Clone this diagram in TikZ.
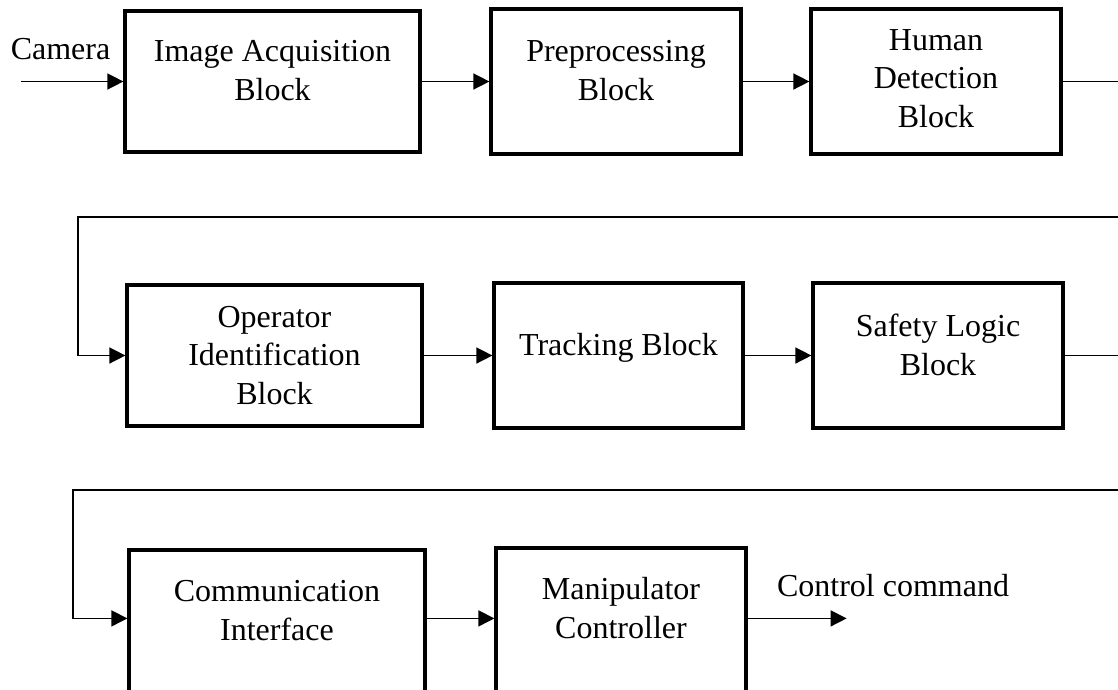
\documentclass[tikz,border=0pt]{standalone}
\usepackage{fontspec}
\setmainfont{Liberation Serif}
\usetikzlibrary{arrows.meta}
\begin{document}
\begin{tikzpicture}[x=1pt,y=-1pt,
  box/.style={draw, rectangle, line width=3.2pt, inner sep=0pt},
  lbl/.style={align=center, anchor=base, inner sep=0pt, font=\fontsize{32}{38.5}\selectfont},
  conn/.style={line width=1.5pt},
  arr/.style={-{Triangle[length=16pt,width=16pt]}}]
\useasboundingbox (0,0) rectangle (1118,689);
\clip (0,0) rectangle (1118,689);
% boxes
\node[box, minimum width=295pt, minimum height=141pt] (b1) at (272.5,81.5) {};
\node[box, minimum width=250pt, minimum height=145pt] (b2) at (616,81.5) {};
\node[box, minimum width=250pt, minimum height=145pt] (b3) at (936,81.5) {};
\node[box, minimum width=295pt, minimum height=141pt] (b4) at (274.5,355.5) {};
\node[box, minimum width=249pt, minimum height=145pt] (b5) at (618.5,355.5) {};
\node[box, minimum width=250pt, minimum height=145pt] (b6) at (938,355.5) {};
\node[box, minimum width=296pt, minimum height=170pt] (b7) at (277,635) {};
\node[box, minimum width=250pt, minimum height=172pt] (b8) at (621,634) {};
% texts (anchor base = last line)
\node[lbl] (t1) at (272.5,100) {Image Acquisition\\Block};
\node[lbl] (t2) at (616,100) {Preprocessing\\Block};
\node[lbl] (t3) at (936,127) {Human\\Detection\\Block};
\node[lbl] (t4) at (274.5,404) {Operator\\Identification\\Block};
\node[lbl] (t5) at (618.5,355) {Tracking Block};
\node[lbl] (t6) at (938,375) {Safety Logic\\Block};
\node[lbl] (t7) at (277,640) {Communication\\Interface};
\node[lbl] (t8) at (621,638) {Manipulator\\Controller};
\node[lbl] (cam) at (60.5,59) {Camera};
\node[lbl] (ctl) at (893,596) {Control command};
% free ends
\coordinate (c0) at (21,81.5);
\coordinate (r1) at (1120,81.5);
\coordinate (l1r) at (1120,217);
\coordinate (l1l) at (78,217);
\coordinate (r2) at (1120,355.5);
\coordinate (l2r) at (1120,490);
\coordinate (l2l) at (73,490);
\path ([yshift=-72pt]b8.north east) ++(99,0) coordinate (out);
% connectors
\draw[conn,arr] (c0) -- (b1.west);
\draw[conn,arr] (b1.east) -- (b2.west);
\draw[conn,arr] (b2.east) -- (b3.west);
\draw[conn] (b3.east) -- (r1);
\draw[conn,arr] (l1r) -- (l1l) |- (b4.west);
\draw[conn,arr] (b4.east) -- (b5.west);
\draw[conn,arr] (b5.east) -- (b6.west);
\draw[conn] (b6.east) -- (r2);
\draw[conn,arr] (l2r) -- (l2l) |- ([yshift=-70pt]b7.north west);
\draw[conn,arr] ([yshift=-70pt]b7.north east) -- ([yshift=-72pt]b8.north west);
\draw[conn,arr] ([yshift=-72pt]b8.north east) -- (out);
\end{tikzpicture}
\end{document}
